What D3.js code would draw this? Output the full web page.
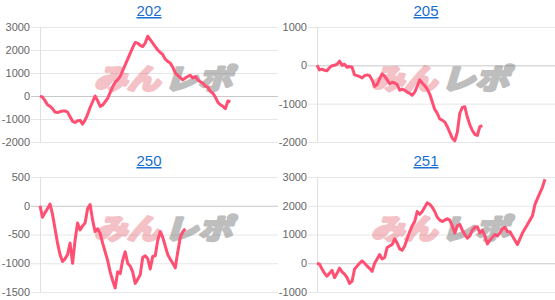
<!DOCTYPE html>
<html lang="ja">
<head>
<meta charset="UTF-8">
<title>みんレポ</title>
<script src="https://d3js.org/d3.v7.min.js"></script>
<style>
body { margin:0; background:#fff; font-family:"Liberation Sans", Arial, sans-serif; }
svg text.tick { fill:#666; font-size:11px; }
.title { fill:#1a6fd0; font-size:15px; text-decoration:underline; }
</style>
</head>
<body>
<svg id="chart" width="555" height="300"></svg>
<script>
// x positions shared by all panels (same label axis)
var labelCount = 96;

var titles = ["202", "205", "250", "251"];

var values202 = [0,-50,-200,-380,-450,-550,-700,-720,-680,-650,
  -650,-700,-900,-1100,-1150,-1080,-1060,-1220,-1050,-800,
  -500,-250,0,-200,-450,-400,-250,-100,150,400,
  600,700,850,1100,1350,1600,1850,2100,2330,2300,
  2200,2150,2300,2600,2450,2300,2150,2000,1900,1800,
  1600,1500,1430,1250,1000,900,800,700,780,850,
  900,780,850,700,620,550,430,380,200,120,
  -50,-280,-380,-450,-550,-220,-250];

var values205 = [0,-120,-100,-130,-140,-60,-10,0,30,110,
  0,30,-50,-30,-50,-250,-270,-290,-330,-270,
  -250,-270,-380,-550,-500,-350,-220,-280,-380,-480,
  -440,-460,-500,-650,-620,-650,-700,-730,-780,-700,
  -550,-380,-460,-530,-620,-750,-950,-1150,-1250,-1400,
  -1430,-1480,-1600,-1750,-1900,-1970,-1750,-1250,-1100,-1080,
  -1350,-1550,-1700,-1800,-1830,-1600,-1570];

var values250 = [0,-200,-120,-50,30,-150,-400,-650,-850,-970,
  -920,-850,-650,-1000,-600,-300,-420,-350,-300,-50,
  20,-250,-450,-400,-480,-650,-800,-950,-1150,-1300,
  -1430,-1150,-1180,-950,-800,-1000,-1050,-1150,-1350,-1280,
  -1200,-900,-870,-920,-1100,-880,-870,-600,-450,-550,
  -700,-850,-930,-1000,-1080,-800,-550,-450,-400];

var values251 = [0,-30,-200,-350,-450,-350,-250,-500,-350,-170,
  -300,-380,-500,-700,-620,-200,-100,0,80,0,
  -100,-180,-280,0,150,300,150,200,550,600,
  650,850,700,500,450,600,850,1100,1300,1450,
  1800,1700,1800,1950,2100,2050,1950,1800,1600,1500,
  1450,1500,1550,1500,1300,1050,1300,1350,1150,1000,
  870,950,1150,1250,1270,1050,1150,950,670,800,
  900,1000,950,1050,1200,1250,1100,1100,950,800,
  650,850,1050,1200,1350,1500,1650,2050,2250,2450,
  2650,2920];

var yDomains = [[-2000, 3000], [-2000, 1000], [-1500, 500], [-1000, 3000]];
var yTicks = [
  [3000, 2000, 1000, 0, -1000, -2000],
  [1000, 0, -1000, -2000],
  [500, 0, -500, -1000, -1500],
  [3000, 2000, 1000, 0, -1000]
];
var series = [values202, values205, values250, values251];

var svg = d3.select("#chart");
var panelW = 277, panelH = 150;
var plotLeft = 40, plotRight = 278, plotTop = 27, plotBottom = 142;

series.forEach(function (data, i) {
  var g = svg.append("g")
    .attr("transform", "translate(" + ((i % 2) * panelW) + "," + (Math.floor(i / 2) * panelH) + ")");

  var x = d3.scaleLinear().domain([0, labelCount - 1]).range([plotLeft, plotRight]);
  var y = d3.scaleLinear().domain(yDomains[i]).range([plotBottom, plotTop]);

  // title
  g.append("text")
    .attr("class", "title")
    .attr("x", 149).attr("y", 16)
    .attr("text-anchor", "middle")
    .text(titles[i]);

  // gridlines
  g.selectAll(".grid").data(yTicks[i]).enter().append("line")
    .attr("x1", plotLeft - 9).attr("x2", plotRight)
    .attr("y1", function (d) { return y(d) + 0.5; })
    .attr("y2", function (d) { return y(d) + 0.5; })
    .attr("stroke", function (d) { return d === 0 ? "#c8c8c8" : "#e6e6e6"; })
    .attr("stroke-width", 1);

  g.append("line")
    .attr("x1", plotLeft + 0.5).attr("x2", plotLeft + 0.5)
    .attr("y1", plotTop).attr("y2", plotBottom)
    .attr("stroke", "#e0e0e0");

  g.selectAll(".tick").data(yTicks[i]).enter().append("text")
    .attr("class", "tick")
    .attr("x", plotLeft - 10)
    .attr("y", function (d) { return y(d); })
    .attr("dy", "0.35em")
    .attr("text-anchor", "end")
    .text(function (d) { return d; });

  // watermark (logo-ish, heavy italic)
  var wm = g.append("g").attr("font-family", "'Noto Sans CJK JP', sans-serif")
    .attr("font-weight", "bold").attr("font-style", "italic").attr("font-size", 28)
    .attr("stroke-linejoin", "round");
  wm.append("g").attr("opacity", 0.35).append("text")
    .attr("x", 94).attr("y", 89)
    .attr("textLength", 66).attr("lengthAdjust", "spacingAndGlyphs")
    .attr("fill", "#e0505e").attr("stroke", "#e0505e").attr("stroke-width", 3)
    .text("みん");
  wm.append("g").attr("opacity", 0.45).append("text")
    .attr("x", 164).attr("y", 89)
    .attr("textLength", 68).attr("lengthAdjust", "spacingAndGlyphs")
    .attr("fill", "#707070").attr("stroke", "#707070").attr("stroke-width", 3)
    .text("レポ");

  var line = d3.line()
    .x(function (d, k) { return x(k); })
    .y(function (d) { return y(d); });

  g.append("path")
    .datum(data)
    .attr("d", line)
    .attr("fill", "none")
    .attr("stroke", "#ff4f72")
    .attr("stroke-width", 3)
    .attr("stroke-linejoin", "round");
});
</script>
</body>
</html>
